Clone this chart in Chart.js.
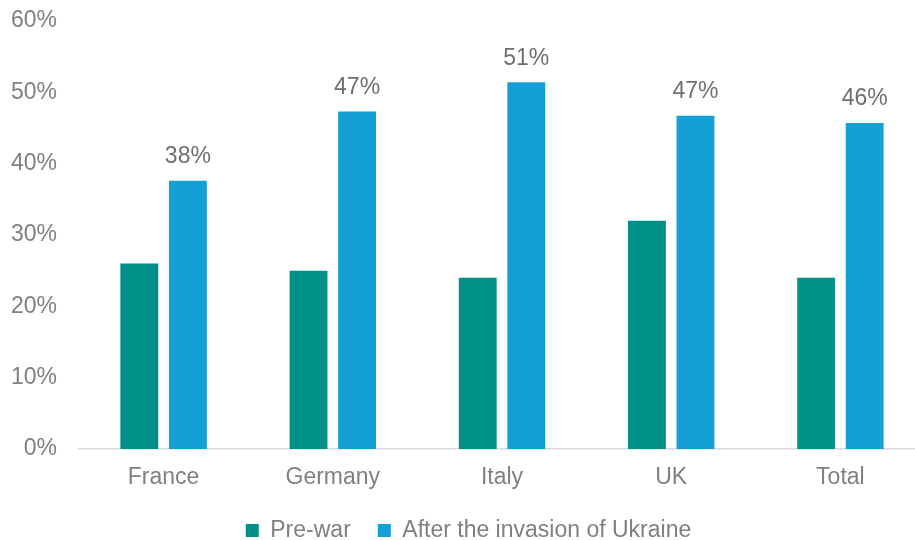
<!DOCTYPE html>
<html>
<head>
<meta charset="utf-8">
<script src="https://cdn.jsdelivr.net/npm/chart.js@4"></script>
<style>
  html, body { margin: 0; padding: 0; background: #fff; overflow: hidden; }
  #wrap { width: 925px; height: 540px; }
</style>
</head>
<body>
<div id="wrap"><canvas id="grafico" width="925" height="540"></canvas></div>
<script>
// DADOS
const categorias = ['France', 'Germany', 'Italy', 'UK', 'Total'];
const preGuerra = [26, 25, 24, 32, 24];
const aposInvasao = [37.6, 47.3, 51.4, 46.7, 45.7];
const ticksY = [0, 10, 20, 30, 40, 50, 60];

const corTexto = '#808080';
const fonte = { family: '"Liberation Sans", Arial, sans-serif', size: 23 };

// rótulos em cima das barras azuis
const rotulosPlugin = {
    id: 'rotulos',
    afterDatasetsDraw(chart) {
        const ctx = chart.ctx;
        const meta = chart.getDatasetMeta(1);
        ctx.save();
        ctx.font = `${fonte.size}px ${fonte.family}`;
        ctx.fillStyle = '#6f6f6f';
        ctx.textAlign = 'center';
        ctx.textBaseline = 'middle';
        meta.data.forEach((bar, i) => {
            ctx.fillText(Math.round(aposInvasao[i]) + '%', bar.x, bar.y - 24);
        });
        ctx.restore();
    }
};

// ajusta a posição horizontal da legenda
const legendaPlugin = {
    id: 'legendaOffset',
    afterLayout(chart) {
        const lg = chart.legend;
        if (lg) {
            lg.left += 6;
            lg.right += 6;
        }
    }
};

new Chart(document.getElementById('grafico'), {
    type: 'bar',
    data: {
        labels: categorias,
        datasets: [
            { label: 'Pre-war', data: preGuerra, backgroundColor: '#00908A' },
            { label: 'After the invasion of Ukraine', data: aposInvasao, backgroundColor: '#14A0D6' }
        ]
    },
    options: {
        responsive: false,
        animation: false,
        devicePixelRatio: 1,
        layout: { padding: { top: 21, right: 0, left: 0, bottom: 0 } },
        datasets: { bar: { categoryPercentage: 0.574, barPercentage: 0.78 } },
        plugins: {
            tooltip: { enabled: false },
            legend: {
                position: 'bottom',
                maxHeight: 48,
                labels: {
                    boxWidth: 13,
                    boxHeight: 13,
                    padding: 27,
                    color: corTexto,
                    font: fonte
                }
            }
        },
        scales: {
            x: {
                afterFit(scale) { scale.height = 43; },
                grid: { display: false, drawTicks: false },
                border: { display: true, color: '#d9d9d9', width: 1.5 },
                ticks: { color: corTexto, font: fonte, padding: 15 }
            },
            y: {
                min: 0,
                max: 60,
                afterFit(scale) {
                    scale.width = 79;
                    scale.paddingTop = 0;
                    scale.paddingBottom = 0;
                },
                afterBuildTicks(scale) { scale.ticks = ticksY.map(v => ({ value: v })); },
                grid: { display: false, drawTicks: false },
                border: { display: false },
                ticks: {
                    color: corTexto,
                    font: fonte,
                    padding: 22,
                    callback: v => v + '%'
                }
            }
        }
    },
    plugins: [rotulosPlugin, legendaPlugin]
});
</script>
</body>
</html>
